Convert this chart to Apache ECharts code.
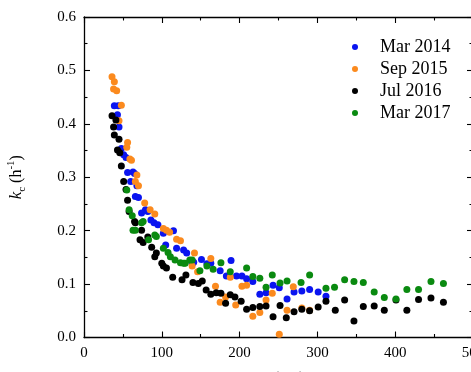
<!DOCTYPE html>
<html>
<head>
<meta charset="utf-8">
<script src="https://cdn.jsdelivr.net/npm/echarts@6/dist/echarts.min.js"></script>
<style>
html, body { margin: 0; padding: 0; background: #fff; }
#main { width: 471px; height: 372px; }
</style>
</head>
<body>
<div id="main"></div>
<script>
// Dp (nm) vs kc (h-1)
var names  = ['Mar 2014', 'Sep 2015', 'Jul 2016', 'Mar 2017'];
var colors = ['#0a14f0', '#fb8a1e', '#000000', '#0a8a10'];
var xTicks = [0, 100, 200, 300, 400, 500];
var yTicks = [0.0, 0.1, 0.2, 0.3, 0.4, 0.5, 0.6];

var mar2014 = [
    [39,0.434],[44,0.434],[43,0.417],[45,0.394],[48,0.354],[51,0.342],[54,0.337],[56,0.309],
    [60,0.292],[63,0.310],[65,0.307],[68,0.284],[66,0.264],[70,0.262],[74,0.233],[79,0.239],
    [82,0.236],[86,0.220],[90,0.215],[95,0.211],[102,0.195],[105,0.173],[115,0.200],[119,0.167],
    [128,0.164],[132,0.158],[139,0.138],[141,0.141],[151,0.146],[158,0.138],[163,0.139],[175,0.125],
    [189,0.144],[183,0.115],[196,0.115],[203,0.115],[209,0.110],[217,0.105],[226,0.081],[234,0.084],
    [243,0.098],[251,0.093],[261,0.072],[270,0.085],[280,0.087],[290,0.090],[301,0.085],[311,0.077]
];
var sep2015 = [
    [36,0.488],[39,0.479],[38,0.465],[42,0.462],[48,0.435],[45,0.406],[56,0.365],[55,0.356],
    [59,0.334],[61,0.332],[68,0.304],[66,0.292],[70,0.284],[78,0.252],[85,0.239],[91,0.231],
    [102,0.204],[106,0.201],[110,0.197],[119,0.184],[124,0.181],[139,0.134],[142,0.158],[146,0.123],
    [163,0.148],[169,0.096],[175,0.066],[182,0.076],[188,0.113],[195,0.061],[203,0.096],[209,0.098],
    [217,0.040],[226,0.047],[234,0.070],[242,0.083],[251,0.006],[261,0.051],[269,0.095],[280,0.055],
    [290,0.051]
];
var jul2016 = [
    [36,0.415],[41,0.407],[38,0.394],[39,0.379],[45,0.371],[43,0.351],[46,0.346],[48,0.321],
    [51,0.292],[54,0.277],[56,0.257],[58,0.236],[65,0.217],[66,0.215],[72,0.183],[74,0.201],
    [76,0.178],[82,0.188],[87,0.169],[91,0.151],[93,0.158],[100,0.139],[102,0.134],[106,0.130],
    [114,0.113],[126,0.108],[131,0.117],[140,0.103],[147,0.101],[152,0.106],[157,0.089],[163,0.081],
    [170,0.084],[176,0.083],[182,0.064],[188,0.080],[194,0.076],[202,0.068],[209,0.053],[217,0.056],
    [226,0.058],[234,0.059],[243,0.039],[252,0.060],[260,0.037],[270,0.048],[280,0.053],[290,0.050],
    [301,0.057],[311,0.068],[323,0.051],[335,0.070],[347,0.031],[359,0.058],[373,0.059],[386,0.051],
    [401,0.070],[415,0.051],[430,0.071],[446,0.074],[462,0.066]
];
var mar2017 = [
    [55,0.276],[58,0.239],[62,0.228],[63,0.201],[66,0.201],[74,0.215],[76,0.217],[83,0.183],
    [91,0.192],[93,0.189],[102,0.167],[108,0.159],[111,0.151],[117,0.145],[124,0.140],[128,0.139],
    [130,0.139],[136,0.145],[139,0.145],[149,0.125],[158,0.134],[166,0.128],[176,0.140],[188,0.123],
    [209,0.130],[217,0.114],[226,0.111],[234,0.094],[242,0.117],[252,0.102],[261,0.106],[279,0.103],
    [290,0.117],[311,0.092],[322,0.094],[335,0.108],[347,0.105],[359,0.103],[373,0.085],[386,0.075],
    [401,0.072],[415,0.090],[430,0.090],[446,0.105],[462,0.101]
];
var allData = [mar2014, sep2015, jul2016, mar2017];

var font = 'Liberation Serif';
var chart = echarts.init(document.getElementById('main'), null, {renderer: 'canvas'});

function axisBase(extra) {
    var a = {
        axisLine: {show: true, onZero: false, lineStyle: {color: '#000', width: 1.3}},
        axisTick: {show: true, inside: true, length: 6, lineStyle: {color: '#000', width: 1.1}},
        minorTick: {show: true, splitNumber: 2, length: 3.5, lineStyle: {color: '#000', width: 1.1}},
        splitLine: {show: false},
        axisLabel: {color: '#000', fontFamily: font, fontSize: 15}
    };
    for (var k in extra) a[k] = extra[k];
    return a;
}

var series = [];
for (var i = 0; i < names.length; i++) {
    series.push({
        name: names[i],
        type: 'scatter',
        symbol: 'circle',
        symbolSize: 7,
        itemStyle: {color: colors[i], opacity: 1},
        data: allData[i]
    });
}

option = {
    animation: false,
    grid: {left: 84, top: 17, right: -2, bottom: 34.5, containLabel: false, outerBoundsMode: 'none'},
    legend: {
        orient: 'vertical',
        left: 347,
        top: 33,
        icon: 'circle',
        itemWidth: 40,
        itemHeight: 6,
        itemGap: 4,
        data: names,
        textStyle: {color: '#000', fontFamily: font, fontSize: 18, padding: [0, 0, 0, 0]}
    },
    xAxis: [
        axisBase({
            type: 'value', position: 'bottom', min: 0, max: 500, interval: 100,
            axisLabel: {color: '#000', fontFamily: font, fontSize: 15, margin: 8,
                formatter: function (v) { return xTicks.indexOf(v) >= 0 ? String(v) : ''; }},
            name: '{i|D}{s|p} (nm)',
            nameLocation: 'middle',
            nameGap: 31,
            nameTextStyle: {
                color: '#000', fontFamily: font, fontSize: 16,
                rich: {
                    i: {fontFamily: font, fontStyle: 'italic', fontSize: 16, lineHeight: 20},
                    s: {fontFamily: font, fontSize: 11, lineHeight: 11, verticalAlign: 'bottom'}
                }
            }
        }),
        axisBase({
            type: 'value', position: 'top', min: 0, max: 500, interval: 100,
            axisLabel: {show: false}
        })
    ],
    yAxis: [
        axisBase({
            type: 'value', position: 'left', min: 0, max: 0.6, interval: 0.1,
            axisLabel: {color: '#000', fontFamily: font, fontSize: 15, margin: 8,
                formatter: function (v) { return v.toFixed(1); }},
            name: '{i|k}{s|c} (h{p|-1})',
            nameLocation: 'middle',
            nameGap: 56,
            nameTextStyle: {
                color: '#000', fontFamily: font, fontSize: 16,
                rich: {
                    i: {fontFamily: font, fontStyle: 'italic', fontSize: 17, lineHeight: 22},
                    s: {fontFamily: font, fontSize: 11, lineHeight: 11, verticalAlign: 'bottom'},
                    p: {fontFamily: font, fontSize: 11, lineHeight: 11, verticalAlign: 'top'}
                }
            }
        }),
        axisBase({
            type: 'value', position: 'right', min: 0, max: 0.6, interval: 0.1,
            axisLabel: {show: false}
        })
    ],
    series: series
};

chart.setOption(option, true);
</script>
</body>
</html>
